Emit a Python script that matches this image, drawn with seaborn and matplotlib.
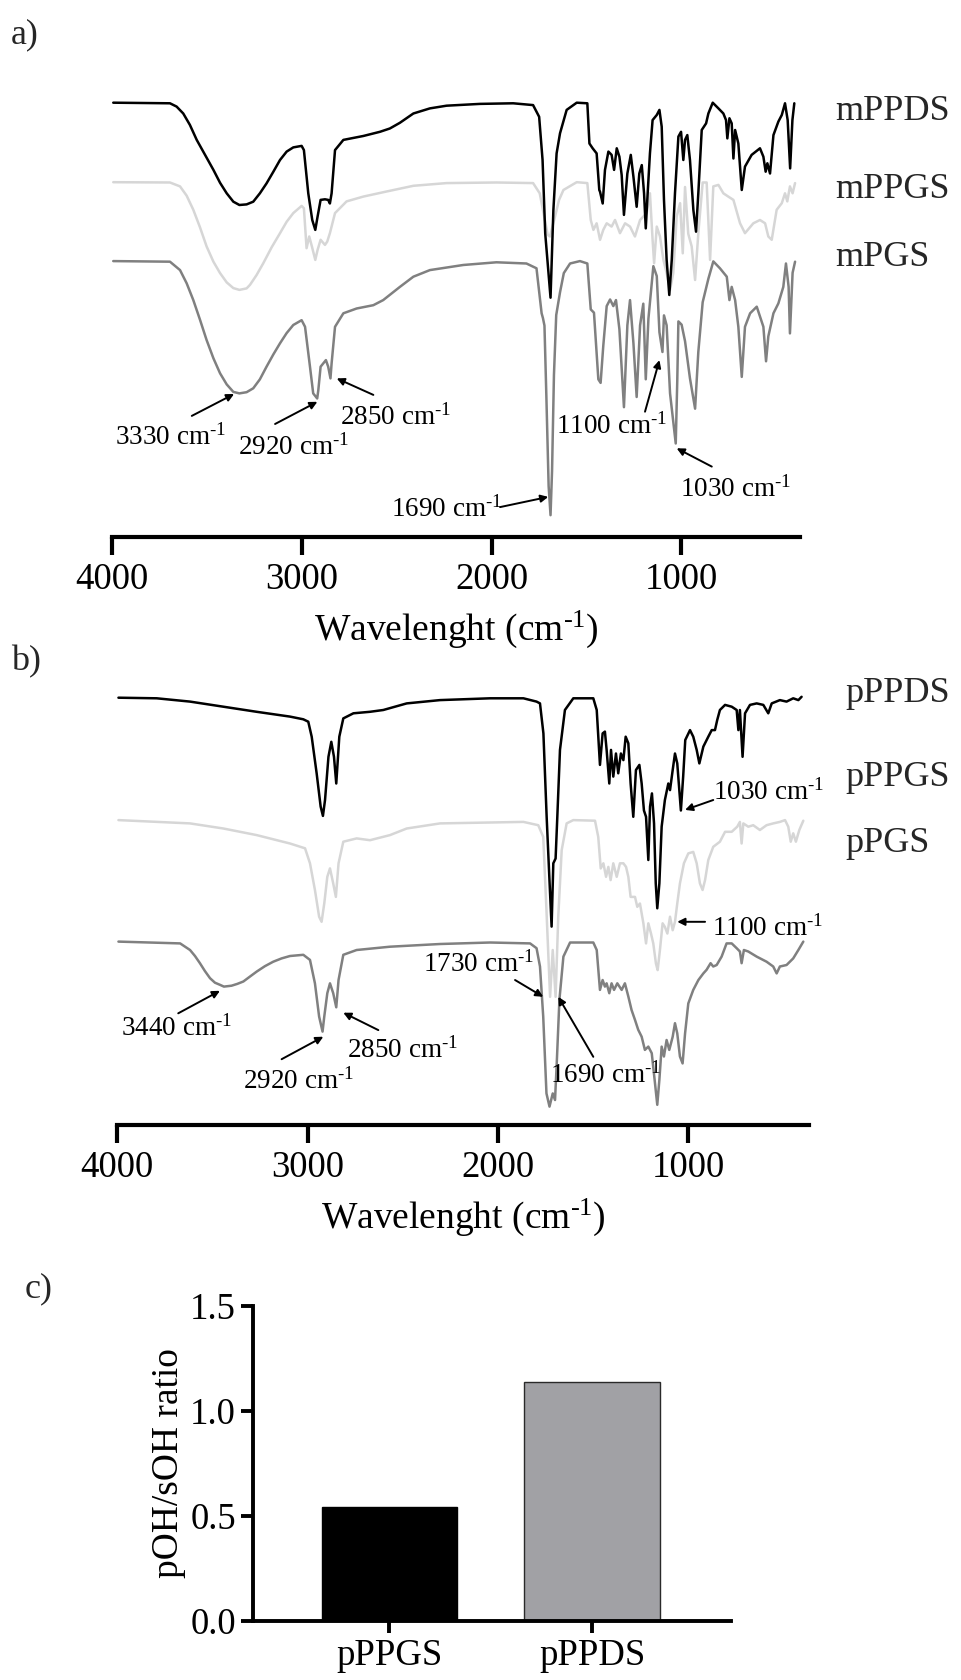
import numpy as np
import pandas as pd
import matplotlib
matplotlib.use("Agg")
import matplotlib.pyplot as plt
import seaborn as sns

# ---------------------------------------------------------------------------
# FTIR spectra: wavenumber (cm-1) and transmittance (%), baseline ~100
# ---------------------------------------------------------------------------
mppds_wn = [3995, 3696, 3661, 3626, 3591, 3555, 3511, 3467, 3432, 3397, 3362, 3330, 3292, 3257,
            3222, 3187, 3151, 3116, 3081, 3046, 3002, 2990, 2967,
            2946, 2930, 2918, 2902, 2879, 2862, 2853, 2844, 2826, 2782, 2677, 2589, 2537, 2484,
            2413, 2326, 2238, 2062, 1887, 1782, 1750, 1732, 1718, 1690, 1675, 1658, 1640, 1605,
            1552, 1496, 1485, 1468, 1447, 1433, 1429, 1415, 1403, 1385, 1368, 1355, 1341, 1327,
            1315, 1303, 1285, 1267, 1253, 1236, 1222, 1209, 1197, 1188, 1180, 1166, 1152, 1130,
            1116, 1104, 1092, 1078, 1064, 1051, 1034, 1016, 1002, 990, 981, 969, 955, 937, 923,
            911, 893, 870, 858, 835, 805, 779, 765, 758, 747, 735, 726, 717, 700, 682, 665, 630,
            586, 568, 556, 547, 533, 515, 489, 471, 454, 440, 427, 415, 405]
mppds_t = [100, 99.8, 98.7, 96.4, 92.6, 87.6, 82.6, 77.6, 73.3, 69.8, 67.0, 65.9, 66.1, 67.0,
           69.8, 73.1, 77.0, 80.9, 83.7, 85.1, 85.6, 84.2, 69.8,
           60.9, 57.6, 62.0, 67.6, 67.8, 67.6, 66.4, 69.8, 84.2, 87.6, 88.9, 90.3, 91.4, 93.3,
           96.4, 98.1, 99.0, 99.6, 99.8, 99.2, 95.3, 80.9, 56.4, 35.0, 64.2, 83.1, 89.8, 97.6,
           100, 99.8, 86.4, 84.8, 83.1, 70.9, 70.3, 66.4, 77.6, 83.7, 82.6, 77.6, 84.8, 82.0,
           75.9, 62.6, 76.4, 82.6, 75.3, 65.3, 76.4, 79.2, 69.8, 58.1, 67.6, 83.1, 94.2, 95.9,
           97.6, 92.0, 67.6, 47.6, 35.9, 47.6, 69.8, 88.7, 90.3, 80.9, 87.6, 89.2, 80.9, 64.2, 57.0,
           69.8, 90.9, 93.1, 96.4, 100, 98.1, 96.4, 94.2, 88.1, 94.8, 93.1, 81.4, 90.9, 86.4, 70.9,
           78.7, 82.6, 84.8, 82.0, 77.0, 79.8, 76.4, 89.2, 93.7, 95.9, 99.8, 94.2, 78.1, 94.2, 99.8]

mppgs_wn = [3995, 3696, 3643, 3608, 3573, 3538, 3503, 3467, 3432, 3397, 3362, 3330, 3292, 3274,
            3240, 3204, 3160, 3116, 3081, 3046, 3002, 2990,
            2976, 2962, 2948, 2930, 2918, 2902, 2879, 2867, 2853, 2826, 2765, 2677, 2554, 2413,
            2238, 1975, 1782, 1747, 1720, 1705, 1693, 1680, 1666, 1645, 1622, 1552, 1496, 1478,
            1464, 1447, 1429, 1412, 1394, 1368, 1350, 1324, 1297, 1271, 1245, 1218, 1183, 1166,
            1152, 1144, 1130, 1113, 1095, 1078, 1060, 1043, 1025, 1007, 993, 981, 964, 946, 928,
            911, 888, 867, 849, 832, 805, 779, 753, 726, 691, 665, 621, 586, 559, 542, 524, 498,
            471, 454, 442, 428, 414, 401]
mppgs_t = [100, 99.9, 98.6, 95.5, 90.8, 85.0, 78.6, 73.5, 69.7, 66.6, 64.7, 64.1, 64.6, 65.8,
           69.0, 73.0, 78.3, 83.0, 86.8, 89.7, 92.1, 91.3,
           78.0, 81.9, 78.6, 74.1, 77.4, 80.8, 79.1, 80.2, 83.0, 89.7, 93.6, 95.2, 96.9, 98.8,
           99.7, 99.9, 99.7, 96.3, 87.4, 82.5, 81.9, 85.2, 88.6, 94.1, 97.4, 100, 99.7, 87.4,
           84.1, 86.3, 80.8, 84.1, 86.3, 85.2, 87.4, 83.0, 86.3, 85.2, 81.9, 87.4, 89.7, 96.3,
           80.8, 73.0, 85.2, 81.9, 74.1, 69.7, 64.1, 69.7, 88.6, 93.0, 76.3, 98.4, 82.8, 78.6, 67.4,
           83.0, 99.9, 99.9, 74.1, 98.6, 99.1, 96.3, 95.2, 94.1, 86.3, 83.0, 86.3, 87.4, 86.3, 81.9,
           80.8, 90.8, 93.0, 96.3, 93.6, 98.6, 96.3, 99.7]

mpgs_wn = [3995, 3696, 3643, 3608, 3573, 3538, 3503, 3467, 3432, 3397, 3362, 3330, 3292, 3257,
           3222, 3187, 3151, 3116, 3081, 3046, 3002, 2984,
           2958, 2941, 2920, 2914, 2902, 2888, 2874, 2862, 2850, 2844, 2826, 2782, 2712, 2624,
           2572, 2528, 2484, 2413, 2326, 2150, 1975, 1817, 1764, 1737, 1730, 1722, 1712, 1700,
           1690, 1682, 1672, 1660, 1640, 1620, 1587, 1535, 1496, 1478, 1461, 1438, 1426, 1412,
           1394, 1376, 1359, 1345, 1327, 1303, 1285, 1271, 1253, 1236, 1218, 1201, 1188, 1174,
           1148, 1130, 1116, 1100, 1092, 1078, 1060, 1030, 1022, 1016, 999, 981, 955, 928, 911,
           888, 858, 832, 797, 761, 747, 735, 717, 700, 682, 665, 638, 603, 568, 554, 542, 515,
           489, 463, 449, 435, 428, 414, 401]
mpgs_t = [100, 99.8, 97.0, 92.6, 87.0, 80.5, 73.7, 67.6, 62.6, 58.9, 56.4, 55.9, 56.3, 57.6,
          60.6, 64.8, 68.9, 72.6, 76.0, 78.7, 80.3, 78.1,
          64.8, 55.9, 54.2, 57.0, 64.8, 65.9, 67.0, 64.8, 60.9, 65.9, 78.1, 82.6, 84.2, 85.3,
          87.0, 89.2, 91.4, 94.8, 97.0, 98.7, 99.6, 99.2, 97.6, 82.6, 81.0, 78.5, 55.0, 25.0,
          15.3, 30.0, 62.0, 82.0, 89.6, 96.0, 99.2, 100, 99.2, 83.9, 82.8, 60.6, 59.4, 71.7,
          85.0, 87.2, 85.0, 87.0, 77.3, 51.3, 78.6, 87.0, 72.6, 54.7, 78.6, 85.8, 60.6, 80.8,
          98.3, 95.0, 76.3, 69.7, 81.9, 78.6, 55.9, 39.2, 60.0, 79.9, 78.8, 73.3, 60.9, 50.8, 69.7,
          86.3, 94.1, 99.9, 97.6, 94.8, 87.0, 91.4, 87.0, 78.1, 61.4, 78.1, 82.6, 84.8, 78.1, 66.6,
          74.9, 82.6, 85.9, 91.4, 99.2, 91.4, 75.9, 96.1, 99.8]

pppds_wn = [3994, 3793, 3618, 3443, 3268, 3093, 3023, 2997, 2979, 2953, 2932, 2920, 2909, 2891,
            2876, 2862, 2850, 2834, 2813, 2760, 2673, 2603, 2480, 2305, 2042, 1867, 1798, 1780,
            1762, 1745, 1731, 1719, 1710, 1698, 1689, 1675, 1649, 1605, 1500, 1482, 1465, 1451,
            1439, 1430, 1416, 1407, 1395, 1381, 1369, 1355, 1342, 1330, 1316, 1304, 1290, 1276,
            1258, 1246, 1234, 1223, 1211, 1202, 1192, 1181, 1172, 1164, 1153, 1141, 1124, 1106,
            1097, 1083, 1071, 1059, 1040, 1028, 1017, 992, 975, 957, 943, 922, 896, 878, 861, 849,
            835, 808, 773, 747, 738, 730, 716, 703, 677, 642, 607, 581, 563, 520, 485, 450, 423, 406]
pppds_t = [100, 99.8, 98.7, 97.0, 95.3, 93.7, 92.8, 92.0, 87.0, 74.8, 63.7, 60.6, 65.9, 80.3,
           85.3, 80.3, 71.4, 87.0, 93.1, 94.8, 95.3, 95.9, 98.1, 99.2, 99.8, 99.8, 98.7, 98.1,
           88.1, 60.3, 40.3, 23.7, 44.8, 46.4, 60.3, 82.6, 95.9, 99.8, 99.8, 95.9, 77.6, 88.1,
           88.7, 82.6, 71.4, 82.6, 73.7, 81.4, 74.8, 81.4, 79.2, 87.0, 84.8, 71.4, 60.3, 75.9,
           77.6, 71.4, 62.4, 60.3, 45.9, 63.7, 68.1, 58.1, 38.1, 29.8, 38.1, 57.0, 65.9, 71.4,
           69.2, 75.9, 81.4, 78.1, 62.4, 73.7, 85.9, 89.2, 87.0, 82.6, 78.1, 83.7, 87.0, 89.2, 89.2,
           92.6, 95.9, 97.6, 97.0, 95.9, 89.2, 95.9, 80.3, 94.8, 97.6, 98.1, 97.6, 94.8, 98.1, 99.2,
           98.7, 99.8, 99.2, 100.3]

pppgs_wn = [3994, 3618, 3443, 3268, 3093, 3014, 2988, 2962, 2940, 2927, 2913, 2897, 2883, 2866,
            2852, 2838, 2813, 2743, 2673, 2568, 2480, 2305, 1867, 1789, 1763, 1746, 1727, 1713,
            1698, 1684, 1666, 1640, 1605, 1491, 1474, 1461, 1447, 1433, 1421, 1409, 1395, 1377,
            1360, 1342, 1328, 1316, 1304, 1281, 1269, 1255, 1237, 1223, 1211, 1197, 1185, 1171,
            1162, 1150, 1136, 1124, 1111, 1097, 1083, 1071, 1059, 1045, 1024, 1001, 975, 957, 940,
            926, 913, 896, 870, 835, 808, 773, 744, 730, 721, 712, 686, 660, 625, 590, 555, 520,
            493, 476, 463, 450, 436, 418, 397]
pppgs_t = [100, 98.9, 97.2, 95.0, 92.2, 90.6, 85.6, 76.7, 67.8, 66.1, 72.2, 81.1, 83.9, 78.9,
           74.4, 85.6, 92.8, 93.9, 93.3, 95.0, 97.2, 98.9, 99.4, 98.3, 94.4, 70.0, 41.1, 56.7,
           41.1, 67.8, 90.0, 98.9, 100, 99.8, 94.4, 83.9, 85.6, 81.1, 84.4, 80.0, 85.6, 81.1,
           85.6, 85.6, 84.4, 81.1, 74.4, 74.4, 71.1, 72.2, 65.6, 58.9, 65.6, 62.2, 58.9, 52.2,
           50.0, 56.7, 65.6, 64.4, 62.2, 67.8, 63.3, 66.1, 72.2, 78.9, 85.6, 88.9, 89.4, 85.6, 78.9,
           76.7, 80.0, 86.7, 91.1, 92.8, 96.1, 96.1, 97.8, 99.4, 92.2, 98.9, 97.8, 98.3, 96.7, 98.3,
           98.9, 99.4, 100, 97.8, 92.8, 95.6, 92.8, 96.7, 99.8]

ppgs_wn = [3994, 3670, 3618, 3592, 3566, 3540, 3513, 3487, 3461, 3440, 3400, 3370, 3338, 3300,
           3268, 3225, 3181, 3137, 3093, 3023, 2988,
           2962, 2940, 2922, 2913, 2897, 2883, 2866, 2850, 2838, 2813, 2743, 2568, 2305, 2042,
           1832, 1798, 1780, 1763, 1746, 1730, 1713, 1701, 1692, 1678, 1657, 1622, 1500, 1482,
           1465, 1451, 1439, 1430, 1416, 1404, 1391, 1374, 1351, 1334, 1316, 1299, 1281, 1264,
           1246, 1229, 1211, 1193, 1176, 1164, 1153, 1141, 1129, 1115, 1101, 1083, 1071, 1059,
           1045, 1031, 1018, 1001, 975, 948, 922, 905, 884, 870, 852, 826, 800, 773, 747, 730, 721,
           709, 686, 642, 590, 555, 537, 520, 485, 450, 423, 397]
ppgs_t = [100, 99.4, 97.2, 95.2, 92.8, 90.2, 87.8, 86.3, 85.6, 85.0, 85.3, 85.9, 86.7, 88.5,
          90.0, 91.8, 93.3, 94.4, 95.2, 95.6, 93.9,
          86.1, 75.0, 70.0, 75.0, 82.8, 86.1, 82.8, 78.1, 87.2, 95.6, 97.2, 98.3, 99.2, 99.7,
          99.4, 97.8, 91.7, 75.0, 49.4, 45.0, 49.4, 47.2, 59.4, 80.6, 95.0, 99.7, 99.7, 97.2,
          83.9, 87.2, 85.0, 86.1, 82.8, 86.1, 83.9, 86.1, 83.9, 86.1, 81.7, 77.2, 73.9, 70.6,
          68.3, 63.9, 65.0, 62.8, 52.8, 45.6, 53.9, 65.0, 61.7, 67.2, 63.9, 68.3, 72.8, 69.4,
          61.7, 59.4, 69.4, 79.4, 83.9, 87.2, 89.4, 90.6, 92.8, 91.7, 92.2, 95.0, 99.4, 99.4, 97.8,
          96.7, 92.8, 97.2, 96.7, 95.0, 93.3, 91.7, 89.4, 91.7, 92.2, 94.4, 97.2, 100]

# Vertical stacking offsets (transmittance units) for the stacked spectra
offsets_a = [0.0, -26.5, -52.8]
offsets_b = [0.0, -40.8, -81.3]
names_a = ["mPPDS", "mPPGS", "mPGS"]
names_b = ["pPPDS", "pPPGS", "pPGS"]
line_colors = ["#000000", "#d6d6d6", "#808080"]

# Peak annotations: label, text centre (wn, y), arrow tail (wn, y), arrow tip (wn, y)
peaks_a = [("3330", 3693, -10.8, 3581, -4.4, 3358, 2.9),
           ("2920", 3045, -14.1, 3142, -7.1, 2919, 0.3),
           ("2850", 2507, -4.1, 2624, 2.6, 2817, 8.1),
           ("1690", 2236, -34.8, 1956, -34.8, 1702, -31.4),
           ("1100", 1368, -7.4, 1192, -3.0, 1116, 14.2),
           ("1030", 712, -28.1, 840, -21.3, 1025, -15.2)]
peaks_b = [("3440", 3689, -9.7, 3680, -5.2, 3461, 2.3),
           ("2920", 3046, -27.4, 3137, -20.5, 2918, -13.0),
           ("2850", 2502, -16.8, 2629, -10.8, 2813, -5.0),
           ("1730", 2100, 11.6, 1911, 5.9, 1763, 0.3),
           ("1690", 1433, -25.1, 1500, -19.7, 1684, 0.3),
           ("1030", 577, 69.2, 870, 65.9, 1018, 62.6),
           ("1100", 582, 23.7, 913, 25.3, 1059, 25.3)]

# Primary / secondary hydroxyl ratio
bar_labels = ["pPPGS", "pPPDS"]
bar_values = [0.54, 1.14]
bar_colors = ["#000000", "#a1a1a5"]
bar_edges = ["#000000", "#2a2a2a"]

wn_ticks = [4000, 3000, 2000, 1000]
ratio_ticks = [0.0, 0.5, 1.0, 1.5]

# ---------------------------------------------------------------------------
sns.set_theme(style="white")
plt.rcParams["font.family"] = ["Liberation Serif", "DejaVu Serif"]
plt.rcParams["mathtext.fontset"] = "custom"
plt.rcParams["mathtext.rm"] = "Liberation Serif"
plt.rcParams["mathtext.it"] = "Liberation Serif:italic"
plt.rcParams["mathtext.bf"] = "Liberation Serif:bold"

W, H = 962, 1680
fig = plt.figure(figsize=(W / 100, H / 100), dpi=100)
fig.patch.set_facecolor("white")

INV_CM = r"cm$^{\text{-}1}$"


def px_axes(left, top, right, bottom):
    return fig.add_axes([left / W, 1 - bottom / H, (right - left) / W, (bottom - top) / H])


TICK_FS = 26.5
ANN_FS = 19.5


def spectrum_panel(ax, spectra, offsets, xlim, ylim, peaks):
    # bottom trace first so the black one ends on top
    for i in [2, 1, 0]:
        wn, t = spectra[i]
        df = pd.DataFrame({"wn": wn, "y": np.asarray(t, dtype=float) + offsets[i]})
        sns.lineplot(data=df, x="wn", y="y", ax=ax, color=line_colors[i], lw=1.8,
                     sort=False, estimator=None, zorder=3 + (2 - i))
    ax.set_xlim(*xlim)
    ax.set_ylim(*ylim)
    ax.set_yticks([])
    ax.set_ylabel("")
    for s in ("left", "right", "top"):
        ax.spines[s].set_visible(False)
    ax.spines["bottom"].set_linewidth(3.0)
    ax.spines["bottom"].set_color("black")
    ax.set_xticks(wn_ticks)
    ax.set_xticklabels([str(v) for v in wn_ticks])
    ax.tick_params(axis="x", direction="out", length=13, width=3.0, pad=5.5,
                   labelsize=TICK_FS, colors="black", bottom=True)
    ax.set_xlabel("Wavelenght (" + INV_CM + ")", fontsize=27, labelpad=8, color="black")
    ax.set_facecolor("none")
    for lab, tx, ty, ax0, ay0, ax1, ay1 in peaks:
        ax.text(tx, ty - 3.06, lab + " " + INV_CM, fontsize=ANN_FS, ha="center",
                va="baseline", color="black", zorder=10)
        ax.annotate("", xy=(ax1, ay1), xytext=(ax0, ay0),
                    arrowprops=dict(arrowstyle="-|>", color="black", lw=1.4,
                                    mutation_scale=11, shrinkA=0, shrinkB=0),
                    zorder=10)


# --- panel a ---------------------------------------------------------------
ax_a = px_axes(112.3, 90, 800, 537)
spectrum_panel(ax_a, [(mppds_wn, mppds_t), (mppgs_wn, mppgs_t), (mpgs_wn, mpgs_t)],
               offsets_a, (4000, 375), (-44.77, 104.23), peaks_a)

# --- panel b ---------------------------------------------------------------
ax_b = px_axes(117.3, 680, 809.4, 1125)
spectrum_panel(ax_b, [(pppds_wn, pppds_t), (pppgs_wn, pppgs_t), (ppgs_wn, ppgs_t)],
               offsets_b, (4000, 365), (-42.43, 105.9), peaks_b)

# sample names beside the traces
for name, y in zip(names_a, [112, 190, 257]):
    fig.text(835 / W, 1 - y / H, name, fontsize=26, ha="left", va="center")
for name, y in zip(names_b, [694, 778, 843]):
    fig.text(845 / W, 1 - y / H, name, fontsize=26, ha="left", va="center")

# --- panel c ---------------------------------------------------------------
ax_c = px_axes(253.3, 1306, 730.6, 1620.7)
bars = pd.DataFrame({"sample": bar_labels, "ratio": bar_values})
sns.barplot(data=bars, x="sample", y="ratio", hue="sample", palette=bar_colors,
            width=0.667, linewidth=1.0, ax=ax_c, legend=False)
for patch, ec in zip(ax_c.patches, bar_edges):
    patch.set_edgecolor(ec)
ax_c.set_xlim(-0.67, 1.683)
ax_c.set_ylim(0, 1.5)
ax_c.set_yticks(ratio_ticks)
ax_c.set_yticklabels([f"{v:.1f}" for v in ratio_ticks])
ax_c.set_xlabel("")
ax_c.set_ylabel("pOH/sOH ratio", fontsize=27, labelpad=3, color="black")
for s in ("right", "top"):
    ax_c.spines[s].set_visible(False)
for s in ("left", "bottom"):
    ax_c.spines[s].set_linewidth(2.8)
    ax_c.spines[s].set_color("black")
ax_c.tick_params(axis="both", direction="out", length=8.5, width=2.8, pad=4,
                 labelsize=TICK_FS, colors="black", left=True, bottom=True)
ax_c.set_facecolor("none")

# panel letters
fig.text(11 / W, 1 - 35 / H, "a)", fontsize=26, ha="left", va="center")
fig.text(11 / W, 1 - 662 / H, "b)", fontsize=26, ha="left", va="center")
fig.text(25 / W, 1 - 1289 / H, "c)", fontsize=26, ha="left", va="center")

fig.savefig("out.png", dpi=100, facecolor="white")
